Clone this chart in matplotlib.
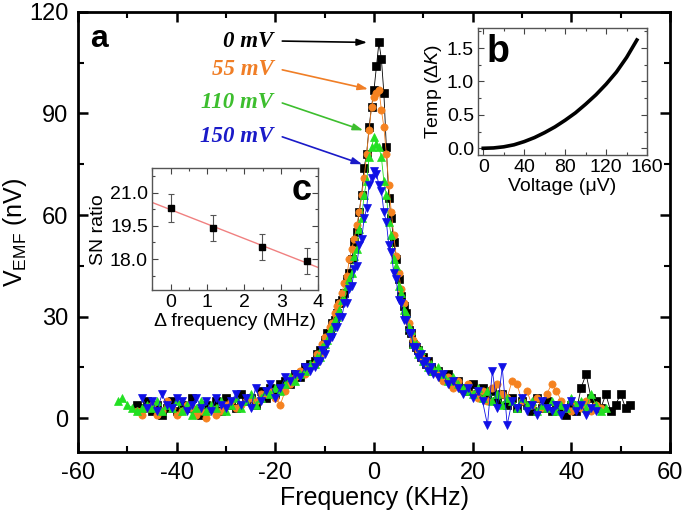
#!/usr/bin/env python3

import numpy as np
import matplotlib
matplotlib.use("Agg")
import matplotlib.pyplot as plt
from matplotlib.ticker import MultipleLocator, FormatStrFormatter

plt.rcParams["font.family"] = ["Liberation Sans", "DejaVu Sans"]
plt.rcParams["mathtext.fontset"] = "custom"
plt.rcParams["mathtext.rm"] = "Liberation Sans"
plt.rcParams["mathtext.it"] = "Liberation Sans:italic"
plt.rcParams["axes.unicode_minus"] = False

nan = np.nan

# frequency grid (kHz): tails every 1 kHz, core every 0.5 kHz
freq_left = [-52, -51, -50, -49, -48, -47, -46, -45, -44, -43,
             -42, -41, -40, -39, -38, -37, -36, -35, -34, -33,
             -32, -31, -30, -29, -28, -27, -26, -25, -24, -23,
             -22, -21, -20, -19, -18, -17, -16, -15, -14, -13]
freq_core = [-12, -11.5, -11, -10.5, -10, -9.5, -9, -8.5, -8, -7.5,
             -7, -6.5, -6, -5.5, -5, -4.5, -4, -3.5, -3, -2.5,
             -2, -1.5, -1, -0.5, 0, 0.5, 1, 1.5, 2, 2.5,
             3, 3.5, 4, 4.5, 5, 5.5, 6, 6.5, 7, 7.5,
             8, 8.5, 9, 9.5, 10, 10.5, 11, 11.5, 12]
freq_right = [13, 14, 15, 16, 17, 18, 19, 20, 21, 22,
              23, 24, 25, 26, 27, 28, 29, 30, 31, 32,
              33, 34, 35, 36, 37, 38, 39, 40, 41, 42,
              43, 44, 45, 46, 47, 48, 49, 50, 51, 52]

# V_EMF (nV) for each bias
v0_left = [nan, nan, nan, nan, 4, 3, 5, 2, 4, 1,
           3, 5, 2, 4, 3, 6, 2, 1, 4, 3,
           5, 2, 6, 4, 3, 7, 5, 6, 4, 8,
           6, 9, 7, 10, 11, 10, 13, 12, 15, 16]
v0_core = [17, 19, 20, 20, 23, 25, 25, 28, 29, 31,
           34, 35, 37, 41, 43, 47, 52, 55, 61, 66,
           74, 78, 86, 92, 97, 104, 111, 106, 96, 80,
           65, 59, 52, 47, 41, 36, 33, 31, 26, 25,
           22, 21, 20, 18, 18, 16, 17, 15, 14]
v0_right = [14, 12, 13, 10, 11, 9, 8, 10, 7, 9,
            6, 8, 5, 7, 4, 6, 3, 5, 4, 2,
            6, 3, 5, 2, 4, 3, 1, 4, 2, 9,
            13, 6, 5, 3, 7, 2, 4, 7, 3, 4]

v55_left = [nan, nan, nan, nan, 2, 1, 3, 4, 1, 2,
            5, 3, 1, 2, 4, 3, 1, 2, 0, 3,
            1, 2, 4, 5, 3, 4, 5, 6, 5, 7,
            7, 8, 6, 4, 8, 10, 12, 14, 13, 15]
v55_core = [16, 19, 19, 22, 24, 23, 27, 28, 31, 33,
            34, 37, 40, 42, 47, 50, 53, 57, 61, 66,
            71, 78, 85, 92, 95, 96, 97, 91, 86, 78,
            69, 61, 54, 48, 43, 38, 34, 30, 28, 25,
            23, 22, 20, 18, 17, 17, 15, 14, 14]
v55_right = [13, 11, 12, 9, 11, 8, 10, 7, 6, 8,
             5, 9, 10, 7, 6, 11, 10, 5, 8, 4,
             6, 3, 7, 10, 8, 5, 3, 2, 4, 3,
             5, 2, 4, 3, nan, nan, nan, nan, nan, nan]

v110_left = [5, 6, 4, 3, 2, 3, 4, 3, 5, 2,
             4, 3, 5, 2, 4, 1, 3, 5, 2, 4,
             3, 5, 2, 4, 6, 3, 5, 7, 4, 6,
             8, 7, 9, 8, 10, 12, 11, 13, 14, 16]
v110_core = [16, 18, 18, 21, 22, 23, 26, 27, 29, 30,
             32, 35, 35, 39, 41, 43, 48, 50, 56, 59,
             66, 70, 77, 80, 83, 81, 80, 77, 70, 66,
             58, 54, 47, 45, 39, 37, 32, 31, 27, 26,
             22, 22, 19, 20, 17, 17, 15, 16, 14]
v110_right = [15, 13, 11, 12, 10, 9, 8, 7, 9, 6,
              8, 5, 7, 4, 6, 5, 3, 6, 4, 5,
              2, 4, 3, 5, 2, 4, 3, 6, 4, 5,
              3, 7, 4, 2, 3, nan, nan, nan, nan, nan]

v150_left = [nan, nan, nan, nan, nan, 6, 3, 5, 2, 7,
             4, 3, 6, 5, 2, 4, 6, 3, 5, 2,
             6, 4, 3, 5, 7, 4, 6, 3, 9, 5,
             8, 10, 6, 9, 12, 11, 13, 12, 15, 14]
v150_core = [15, 17, 17, 20, 19, 22, 24, 24, 27, 27,
             30, 30, 34, 34, 38, 39, 44, 45, 51, 53,
             59, 62, 69, 71, 73, 72, 69, 67, 61, 58,
             51, 49, 43, 41, 35, 34, 29, 29, 25, 25,
             21, 21, 18, 19, 16, 17, 14, 15, 13]
v150_right = [12, 13, 10, 11, 9, 7, 9, 6, 8, 5,
              -2, 14, 3, 15, -2, 5, 3, 6, 2, 4,
              1, 5, 3, 2, 4, 1, 3, 5, 2, 4,
              1, 3, 2, nan, nan, nan, nan, nan, nan, nan]

bias_labels = ["0 mV", "55 mV", "110 mV", "150 mV"]
colors = ["#000000", "#F58220", "#22E022", "#1010E6"]
text_colors = ["#000000", "#F07E26", "#3DBE2E", "#1A1AC8"]
markers = ["s", "o", "^", "v"]
# label heights and arrow tips (kHz, nV)
label_y = [111.4, 102.9, 93.1, 83.1]
arrow_tip = [(-1.4, 111.0), (-1.2, 97.2), (-2.2, 85.0), (-2.4, 75.0)]

# inset b: temperature vs voltage
volt = [0, 10, 20, 30, 40, 50, 60, 70, 80, 90, 100, 110, 120, 130, 140, 150]
temp = [0, 0.005, 0.022, 0.052, 0.10, 0.16, 0.235, 0.32, 0.42, 0.53,
        0.66, 0.80, 0.96, 1.14, 1.36, 1.62]

# inset c: SN ratio vs detuning
dfreq = [0.0, 1.15, 2.47, 3.69]
sn = [20.31, 19.40, 18.55, 17.90]
sn_err = [0.62, 0.60, 0.58, 0.58]


def main_panel(fig):
    ax = fig.add_axes([0.114, 0.131, 0.864, 0.846])
    freq = freq_left + freq_core + freq_right
    series = [v0_left + v0_core + v0_right,
              v55_left + v55_core + v55_right,
              v110_left + v110_core + v110_right,
              v150_left + v150_core + v150_right]
    for vals, c, m in zip(series, colors, markers):
        ax.plot(freq, vals, color=c, lw=0.6, marker=m, ms=5.2,
                mec=c, mfc=c, mew=0.5)

    ax.set_xlim(-60, 60)
    ax.set_ylim(-10, 120)
    ax.xaxis.set_major_locator(MultipleLocator(20))
    ax.xaxis.set_minor_locator(MultipleLocator(10))
    ax.yaxis.set_major_locator(MultipleLocator(30))
    ax.yaxis.set_minor_locator(MultipleLocator(15))
    ax.tick_params(which="both", direction="in", top=True, right=True,
                   labelsize=17)
    ax.tick_params(which="major", length=7, width=1.8, pad=7)
    ax.tick_params(which="minor", length=4, width=1.5)
    for s in ax.spines.values():
        s.set_linewidth(2)

    ax.set_xlabel("Frequency (KHz)", fontsize=18, labelpad=2)
    ax.set_ylabel("V$_{\\rm EMF}$ (nV)", fontsize=18, labelpad=0)
    ax.text(0.02, 0.92, "a", transform=ax.transAxes, fontsize=23,
            fontweight="bold", va="baseline")

    for lab, y, tip, tc in zip(bias_labels, label_y, arrow_tip, text_colors):
        ax.text(-20.4, y, lab, color=tc, fontsize=16.5, ha="right",
                va="center", family="Liberation Serif", fontweight="bold",
                style="italic")
        ax.annotate("", xy=tip, xytext=(-18.6, y),
                    arrowprops=dict(arrowstyle="-|>,head_length=0.6,head_width=0.2",
                                    color=tc, lw=1.2, shrinkA=0, shrinkB=0))


def inset_b(fig):
    ax = fig.add_axes([0.698, 0.702, 0.2467, 0.2442])
    ax.plot(volt, temp, color="black", lw=2.6)
    ax.set_xlim(-5, 160)
    ax.set_ylim(-0.1, 1.8)
    ax.xaxis.set_major_locator(MultipleLocator(40))
    ax.xaxis.set_minor_locator(MultipleLocator(20))
    ax.yaxis.set_major_locator(MultipleLocator(0.5))
    ax.yaxis.set_minor_locator(MultipleLocator(0.25))
    ax.yaxis.set_major_formatter(FormatStrFormatter("%.1f"))
    ax.tick_params(which="both", direction="in", top=True, right=True,
                   labelsize=14, width=0.8, color="#444444", pad=3)
    ax.tick_params(which="major", length=4)
    ax.tick_params(which="minor", length=2.5)
    for s in ax.spines.values():
        s.set_linewidth(1)
        s.set_color("#555555")
    ax.set_xlabel("Voltage (\u03bcV)", fontsize=14, labelpad=1)
    ax.set_ylabel("Temp ($\\mathit{\u0394K}$)", fontsize=14, labelpad=2)
    ax.text(0.05, 0.73, "b", transform=ax.transAxes, fontsize=27,
            fontweight="bold", va="baseline")


def inset_c(fig):
    ax = fig.add_axes([0.222, 0.442, 0.2423, 0.2346])
    ax.errorbar(dfreq, sn, yerr=sn_err, fmt="s", color="black", ms=5,
                ecolor="#555555", elinewidth=0.8, capsize=2, capthick=0.8)
    slope, icpt = np.polyfit(dfreq, sn, 1)
    xs = np.array([-0.5, 4.0])
    ax.plot(xs, slope * xs + icpt, color="#F08080", lw=1, zorder=1)
    ax.set_xlim(-0.5, 4)
    ax.set_ylim(16.6, 22.1)
    ax.xaxis.set_major_locator(MultipleLocator(1))
    ax.xaxis.set_minor_locator(MultipleLocator(0.5))
    ax.set_yticks([18.0, 19.5, 21.0])
    ax.yaxis.set_minor_locator(MultipleLocator(0.75))
    ax.yaxis.set_major_formatter(FormatStrFormatter("%.1f"))
    ax.tick_params(which="both", direction="in", top=True, right=True,
                   labelsize=14, width=0.8, color="#444444", pad=3)
    ax.tick_params(which="major", length=4)
    ax.tick_params(which="minor", length=2.5)
    for s in ax.spines.values():
        s.set_linewidth(1)
        s.set_color("#555555")
    ax.set_xlabel("\u0394 frequency (MHz)", fontsize=14, labelpad=1)
    ax.set_ylabel("SN ratio", fontsize=14, labelpad=2)
    ax.text(0.96, 0.74, "c", transform=ax.transAxes, fontsize=26,
            fontweight="bold", va="baseline", ha="right")


def main():
    fig = plt.figure(figsize=(6.85, 5.2), dpi=100)
    main_panel(fig)
    inset_b(fig)
    inset_c(fig)
    fig.savefig("out.png", dpi=100, facecolor="white")


if __name__ == "__main__":
    main()
